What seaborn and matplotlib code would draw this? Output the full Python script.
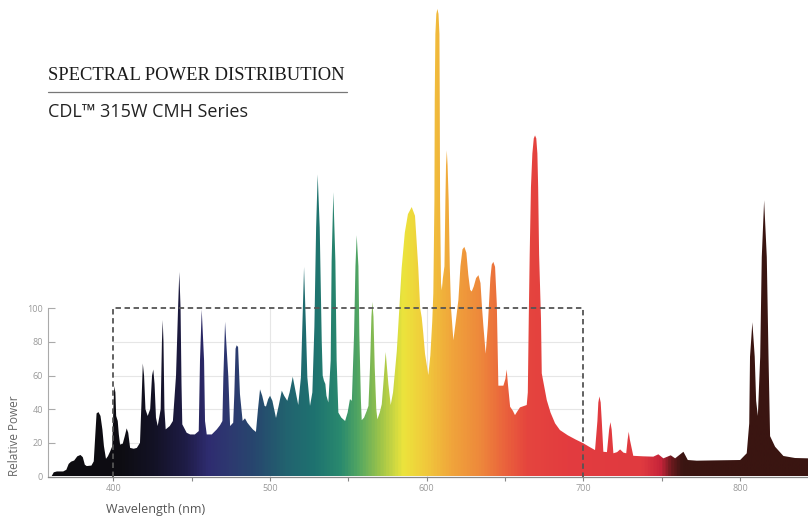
import numpy as np
import pandas as pd
import matplotlib
matplotlib.use("Agg")
import matplotlib.pyplot as plt
import seaborn as sns
from matplotlib.colors import LinearSegmentedColormap
from matplotlib.lines import Line2D

# ---------------- data ----------------
uv_nm = [360.5, 362, 364, 368, 370, 371.5, 373, 375, 377, 379, 380.5, 381.8, 383, 386,
         387.5, 388.5, 389.3, 390.5, 391.8, 393, 394, 395.3, 396.5, 398, 399.3, 400.0,
         400.6, 401.3, 401.8, 402.8, 403.5, 404.3, 406, 407.3, 408.5, 409.5, 410.7, 413,
         415, 417, 418, 418.8, 419.6, 420.5, 421.9, 423.5, 424.7, 425.5, 426.3, 427.2,
         428.3, 430.2, 431.0, 431.5, 432.0, 432.6, 433.4, 436, 438, 440, 441.3, 442.1,
         442.9, 443.5, 444, 446.8, 449]
uv_pw = [0, 2.5, 3, 3, 4, 7.5, 8.8, 9.5, 12, 12.8, 11.5, 7, 6.2, 6.5,
         9, 25, 37.5, 38.3, 36, 28, 18, 10.5, 12, 15, 18, 40,
         53.7, 50, 36, 33, 25, 19, 19.5, 24, 28.6, 26, 17, 16.5,
         17, 20, 45, 67.2, 60, 40, 36, 40, 60, 63.6, 55, 35,
         30, 40, 80, 93, 80, 40, 28, 30, 33, 60, 100, 121.6,
         100, 55, 31, 26, 25]

blue_nm = [452, 454.5, 455.3, 456.4, 457.9, 458.5, 459.6, 462.8, 466, 468.1, 469.6,
           470.2, 471.3, 473.4, 474.5, 476.5, 477.2, 478.0, 478.7, 479.6, 480.8, 482.5,
           484, 485.5, 487.2, 489, 491, 492.3, 493.6, 495, 496.5, 497.4, 498.8, 500,
           501.5, 503.8, 505.5, 507.5, 509, 511, 512.5, 514.5, 516, 518, 519.7, 520.6,
           521.7, 522.9, 523.8, 525.5, 527.0, 528.3, 529.4, 530.4, 531.7, 533.0, 533.6,
           534.4, 535.3, 536.0, 537.2, 538.7, 539.3, 540.4, 541.7, 542.5, 543.6, 545.5]
blue_pw = [25, 27, 69, 99.3, 69, 33, 25, 25, 28, 30.5, 33,
           59, 92, 59, 30, 32, 49, 76, 78, 77, 49, 33,
           34.6, 32, 30, 28, 26.5, 40, 51.8, 48, 42, 41.6, 46, 48,
           45, 34.8, 42, 51, 48, 45, 50, 59.3, 52, 42.5, 59, 89,
           124.6, 89, 59, 42, 50, 89, 148, 179.6, 148, 80, 60,
           57, 55, 48, 44, 69, 128, 169, 128, 69, 38, 35]

vis_nm = [547.9, 549.5, 551, 552.2, 553.6, 554.5, 555.3, 556.4, 557.0, 558.0, 558.5,
          560, 561.7, 562.8, 563.8, 564.7, 565.3, 566.0, 566.8, 567.8, 568.5, 570,
          571.3, 572.3, 573.8, 575.5, 577, 578.5, 580.9, 582.5, 584, 586, 588, 590.4,
          592.5, 594.6, 595.8, 596.8, 597.8, 598.9, 601.0, 602.3, 603.5, 604.2, 604.9,
          605.1, 605.5, 606.1, 606.8, 607.5, 608.1, 608.3, 608.5, 609.1, 609.6, 610.3,
          611.3, 611.9, 612.3, 612.8, 613.3, 614.0, 614.7, 615.5, 617.0, 618.5, 620.2,
          621.5, 622.8, 624, 625.3, 626.5, 627.7, 628.7, 630, 631.5, 633, 634.3, 635.3,
          636.1, 637.6, 639, 640.6, 641.5, 642.5, 643.6, 644.7, 645.7, 647, 648.9]
vis_pw = [33, 38, 46, 45, 84, 125, 143.4, 125, 84, 45, 33.5,
          35, 39, 42, 65, 95, 103.8, 95, 65, 40, 34, 38,
          43, 55, 74, 55, 42.5, 50, 74.6, 100, 124, 145, 156, 160.2,
          155, 124, 100, 94.5, 85, 73, 60.3, 72, 92, 109, 164,
          224, 263, 275, 278, 275, 263, 224, 164, 115, 110.7, 118,
          125, 164, 185, 193.9, 185, 164, 124.6, 100, 81, 92, 105,
          125, 135, 136.5, 133, 120, 111, 110, 113, 118, 119.7, 115, 100,
          90, 73, 90, 118, 126, 127.6, 124.6, 102.8, 54, 54, 54]

red_nm = [650.2, 651, 651.8, 653.2, 655, 656.3, 658, 659.5, 663.8, 664.5, 665.1, 665.7,
          666.5, 667.4, 668.3, 669.1, 669.9, 670.6, 671.1, 671.7, 672.9, 673.4, 676.6,
          679, 681.9, 685, 690, 695, 700, 704, 707.4, 708.9, 709.5, 710.2, 711.0, 711.7,
          712.7, 715, 716.4, 717.2, 718.0, 719.1, 721.5, 723.4, 725.5, 727.3, 728.2,
          728.9, 729.6, 731.8, 738, 744.6, 747.8, 751, 755.7, 758.5, 763.8, 766.6,
          772.3, 785, 800, 804.2, 805.8, 806.3, 807.8, 809.3, 810.2, 811.3, 812.8,
          813.8, 815.3, 817.0, 818.1, 819.1, 822.3, 827.6, 835, 843.3]
red_pw = [58, 63.6, 55, 41.5, 39, 36.5, 39, 41.1, 42.5, 50, 94, 132,
          172, 192, 201, 202.8, 201, 192, 172, 132, 94, 61.3, 45.4,
          38, 31.6, 27.6, 24.5, 22, 19.7, 17.5, 15.7, 32.9, 44, 47.6, 44, 32.9,
          14.7, 14.5, 28, 32.3, 28, 13.8, 14.5, 16.1, 14.2, 13.8, 22,
          26.6, 22, 12.3, 12, 11.8, 13.2, 10.8, 12.6, 10.8, 14.7, 9.8,
          9.4, 9.6, 9.8, 13.8, 31.6, 71.2, 91.7, 71.2, 45, 36, 71.2,
          130.5, 164.2, 130.5, 71.2, 24, 17.7, 12.2, 11, 10.8]

x_ticks = [400, 500, 600, 700, 800]
x_minor = [450, 550, 650, 750]
y_ticks = [0, 20, 40, 60, 80, 100]

# spectrum colour stops (nm, colour)
stop_nm = [358.3, 405, 425, 445, 460, 475, 490, 510, 528, 545, 556, 570, 585, 600,
           617, 634, 647, 664, 690, 738, 750, 757, 764, 843.3]
stop_col = ["#0d0c10", "#0e0d13", "#131225", "#1e1c45", "#2f2c70", "#2d3a70", "#27476e",
            "#22636f", "#1e7270", "#2a8a6e", "#52a662", "#9cc44a", "#ece43c", "#f1c83b",
            "#f0a33b", "#ee893b", "#eb6a3c", "#e5453e", "#e33c3f", "#e03a40", "#c6243a",
            "#6a1a1e", "#3a1512", "#3a1511"]

spec = pd.DataFrame({"wavelength": uv_nm + blue_nm + vis_nm + red_nm,
                     "power": uv_pw + blue_pw + vis_pw + red_pw})

# ---------------- figure ----------------
sns.set_theme(style="white")
plt.rcParams["font.family"] = ["Open Sans", "DejaVu Sans"]

W, H = 808, 517
fig = plt.figure(figsize=(W / 100, H / 100), dpi=100)
XMIN, XMAX = 358.3, 843.3
YMAX = 283.3
ax = fig.add_axes([48 / W, (H - 476.5) / H, 1 - 48 / W, 476.5 / H])
ax.set_xlim(XMIN, XMAX)
ax.set_ylim(0, YMAX)

# grid inside the 400-700 box
for yv in [20, 40, 60, 80]:
    ax.plot([400, 700], [yv, yv], color="#e6e6e6", lw=0.8, zorder=1)
for xv in [500, 600]:
    ax.plot([xv, xv], [0, 100], color="#e6e6e6", lw=0.8, zorder=1)

sns.lineplot(data=spec, x="wavelength", y="power", ax=ax, lw=0, color="k",
             estimator=None, sort=False, zorder=2)
line = ax.lines[-1]
lx, ly = line.get_data()
poly = ax.fill_between(lx, ly, 0, facecolor="none", edgecolor="none", zorder=2)
clip_path = poly.get_paths()[0]

pos = [(v - XMIN) / (XMAX - XMIN) for v in stop_nm]
cmap = LinearSegmentedColormap.from_list("spec", list(zip(pos, stop_col)))
grad = np.linspace(0, 1, 1200).reshape(1, -1)
im = ax.imshow(grad, cmap=cmap, aspect="auto", extent=[XMIN, XMAX, 0, 290],
               origin="lower", zorder=2, interpolation="bilinear")
im.set_clip_path(clip_path, transform=ax.transData)
ax.set_xlim(XMIN, XMAX)
ax.set_ylim(0, YMAX)

# dashed box
ax.plot([400, 400, 700, 700], [0, 100, 100, 0], color="#555555", lw=1.3,
        dashes=(3, 2), zorder=4)

# axes styling
for s in ["top", "right"]:
    ax.spines[s].set_visible(False)
ax.spines["left"].set_bounds(0, 100)
ax.spines["left"].set_color("#aaaaaa")
ax.spines["left"].set_linewidth(0.8)
ax.spines["bottom"].set_color("#888888")
ax.spines["bottom"].set_linewidth(0.9)
ax.set_yticks(y_ticks)
ax.set_yticklabels([str(v) for v in y_ticks])
ax.set_xticks(x_ticks)
ax.set_xticklabels([str(v) for v in x_ticks])
ax.set_xticks(x_minor, minor=True)
ax.tick_params(axis="y", direction="in", length=5, width=0.8, color="#aaaaaa",
               labelsize=6.5, labelcolor="#999999", pad=3.5, left=True)
ax.tick_params(axis="x", which="both", direction="out", length=3, width=0.8,
               color="#888888", labelsize=6.5, labelcolor="#999999", pad=2.5, bottom=True)
ax.set_xlabel("")
ax.set_ylabel("")

# labels
fig.text(155.6 / W, 1 - 509 / H, "Wavelength (nm)", ha="center", va="center",
         fontsize=9, color="#555555")
fig.text(14 / W, 1 - 436 / H, "Relative Power", ha="center", va="center",
         rotation=90, fontsize=8.5, color="#666666")

# title block
fig.text(48 / W, 1 - 80 / H, "SPECTRAL POWER DISTRIBUTION", ha="left", va="baseline",
         fontsize=13.4, color="#1a1a1a", family=["Liberation Serif", "DejaVu Serif"])
fig.add_artist(Line2D([48 / W, 347 / W], [1 - 91.7 / H, 1 - 91.7 / H],
                      color="#777777", lw=0.9))
fig.text(48 / W, 1 - 117 / H, "CDL\u2122 315W CMH Series", ha="left", va="baseline",
         fontsize=13, color="#222222", family=["Open Sans", "DejaVu Sans"])

fig.savefig("out.png", dpi=100)
